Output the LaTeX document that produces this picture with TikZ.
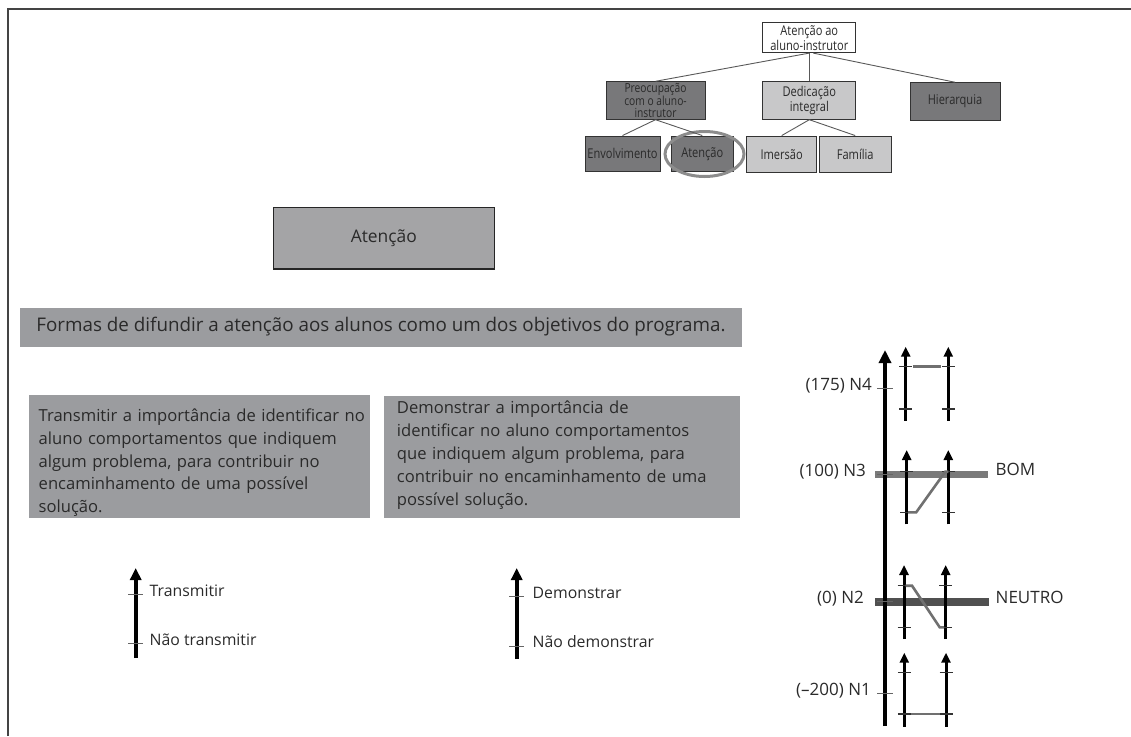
\documentclass[tikz,border=0pt]{standalone}
\usepackage{fontspec}
\setmainfont{Open Sans}
\newfontfamily\treefont[FakeStretch=0.82]{Open Sans}
\usetikzlibrary{arrows.meta,shapes.geometric}

\definecolor{ink}{HTML}{2A2A2A}
\definecolor{framegray}{HTML}{444444}
\definecolor{darkbox}{HTML}{78787A}
\definecolor{lightbox}{HTML}{C8C8C9}
\definecolor{midbox}{HTML}{A4A4A6}
\definecolor{panel}{HTML}{9B9C9F}
\definecolor{linkgray}{HTML}{707070}
\definecolor{ringgray}{HTML}{8C8C8C}
\definecolor{bomband}{HTML}{7A7A7A}
\definecolor{neutband}{HTML}{505050}

\tikzset{
  frameline/.style={draw=framegray, line width=1.6pt},
  treebox/.style={draw=black!80, line width=0.8pt, inner sep=0pt, align=center,
    text=ink, font=\treefont\fontsize{13.5}{15}\selectfont},
  darktree/.style={treebox, fill=darkbox},
  lighttree/.style={treebox, fill=lightbox},
  treelink/.style={draw=black!65, line width=0.9pt},
  ring/.style={draw=ringgray, line width=3pt, ellipse, inner sep=0pt},
  titlebox/.style={draw=black!85, line width=1.5pt, fill=midbox, inner sep=0pt,
    text=ink, font=\fontsize{17.4}{20}\selectfont},
  panelbox/.style={fill=panel, inner sep=0pt, text=ink},
  paneltext/.style={inner sep=0pt, align=left, text=ink, text width=345pt},
  legendarrow/.style={draw=black, line width=4pt, -{Triangle[length=12pt,width=11pt]}},
  legendtick/.style={draw=black!60, line width=0.8pt},
  legendlabel/.style={inner sep=0pt, text=ink, font=\fontsize{15.8}{18}\selectfont},
  mainaxis/.style={draw=black, line width=4.5pt, -{Triangle[length=13pt,width=12pt]}},
  smallaxis/.style={draw=black, line width=3pt, -{Triangle[length=10pt,width=9pt]}},
  axistick/.style={draw=black!60, line width=0.9pt},
  smalltick/.style={draw=black!80, line width=1.2pt},
  pathlink/.style={draw=linkgray, line width=2.6pt},
  scalelabel/.style={inner sep=0pt, text=ink, font=\fontsize{17}{19}\selectfont},
}

\begin{document}
\begin{tikzpicture}[x=1pt,y=-1pt]
\useasboundingbox (0,0) rectangle (1131,736);

% page frame (top and left edges)
\draw[frameline] (8,736) -- (8,9) -- (1131,9);

% ---- concept tree ----
\node[treebox, fill=white, minimum width=93, minimum height=30] (root) at (809.3,37.7) {Atenção ao\\aluno-instrutor};
\node[darktree, minimum width=99, minimum height=37.6,
      font=\treefont\fontsize{12.5}{11.6}\selectfont] (preo) at (655.5,100.5) {Preocupação\\com o aluno-\\instrutor};
\node[lighttree, minimum width=93, minimum height=37.6] (dedi) at (809.3,100.5) {Dedicação\\integral};
\node[darktree, minimum width=90, minimum height=37.3] (hier) at (955,101.3) {Hierarquia};
\node[darktree, minimum width=75, minimum height=35.7] (envo) at (622.5,153.8) {Envolvimento};
\node[darktree, minimum width=61.3, minimum height=35.7] (aten) at (702.3,153.8) {Atenção};
\node[lighttree, minimum width=70, minimum height=36.7] (imer) at (781.7,154.3) {Imersão};
\node[lighttree, minimum width=71.7, minimum height=36.7] (fami) at (855.2,154.3) {Família};
\node[ring, minimum width=79, minimum height=45] (focus) at (704.5,154) {};

\draw[treelink] (root.south) -- (preo.north);
\draw[treelink] (root.south) -- (dedi.north);
\draw[treelink] ([xshift=4pt]root.south) -- (hier.north);
\draw[treelink] (preo.south) -- (envo.north);
\draw[treelink] (preo.south) -- (aten.north);
\draw[treelink] (dedi.south) -- (imer.north);
\draw[treelink] (dedi.south) -- (fami.north);

% ---- category title ----
\node[titlebox, minimum width=221, minimum height=61.7] (title) at (383.8,238.2) {Atenção};

% ---- description panels ----
\node[panelbox, minimum width=722, minimum height=39,
      font=\fontsize{18.8}{22}\selectfont] (goal) at (381,327) {Formas de difundir a atenção aos alunos como um dos objetivos do programa.};

\node[panelbox, anchor=north west, minimum width=341, minimum height=123] (lpanel) at (29,395) {};
\node[paneltext, anchor=base west, font=\fontsize{16.6}{22.7}\selectfont] (ltext) at (38.5,421.7)
  {Transmitir a importância de identificar no\\aluno comportamentos que indiquem\\algum problema, para contribuir no\\encaminhamento de uma possível\\solução.};

\node[panelbox, anchor=north west, minimum width=356.7, minimum height=122] (rpanel) at (383.3,396) {};
\node[paneltext, anchor=base west, font=\fontsize{16.6}{23}\selectfont] (rtext) at (396.7,413)
  {Demonstrar a importância de\\identificar no aluno comportamentos\\que indiquem algum problema, para\\contribuir no encaminhamento de uma\\possível solução.};

% ---- legend scales ----
\coordinate (ta0) at (135.7,658);
\coordinate (ta1) at (135.7,568);
\coordinate (taHi) at (135.7,594);
\coordinate (taLo) at (135.7,643);
\draw[legendarrow] (ta0) -- (ta1);
\draw[legendtick] ([xshift=-7.5pt]taHi) -- ([xshift=7.5pt]taHi);
\draw[legendtick] ([xshift=-7.5pt]taLo) -- ([xshift=7.5pt]taLo);
\node[legendlabel, anchor=mid west] (taHiL) at (149.5,594) {Transmitir};
\node[legendlabel, anchor=mid west] (taLoL) at (149.5,643) {Não transmitir};

\coordinate (da0) at (516.7,659);
\coordinate (da1) at (516.7,568);
\coordinate (daHi) at (516.7,596);
\coordinate (daLo) at (516.7,646);
\draw[legendarrow] (da0) -- (da1);
\draw[legendtick] ([xshift=-7.5pt]daHi) -- ([xshift=7.5pt]daHi);
\draw[legendtick] ([xshift=-7.5pt]daLo) -- ([xshift=7.5pt]daLo);
\node[legendlabel, anchor=mid west] (daHiL) at (532.5,596) {Demonstrar};
\node[legendlabel, anchor=mid west] (daLoL) at (532.5,645) {Não demonstrar};

% ---- value scale ----
\coordinate (n3band0) at (875,474.7);
\coordinate (n3band1) at (988,474.7);
\coordinate (n2band0) at (875,601.7);
\coordinate (n2band1) at (989,601.7);
\draw[draw=bomband, line width=7pt] (n3band0) -- (n3band1);
\draw[draw=neutband, line width=8pt] (n2band0) -- (n2band1);

\coordinate (ax0) at (885,726);
\coordinate (ax1) at (885,350);
\draw[mainaxis] (ax0) -- (ax1);
\foreach \lv/\yy in {N4/388, N3/474.5, N2/601.5, N1/693.3} {
  \coordinate (ax\lv) at (885,\yy);
  \draw[axistick] ([xshift=-8pt]ax\lv) -- ([xshift=8pt]ax\lv);
}
\node[scalelabel, anchor=mid east] (labN4) at (872,388) {(175) N4};
\node[scalelabel, anchor=mid east] (labN3) at (866,474) {(100) N3};
\node[scalelabel, anchor=mid east] (labN2) at (864,601) {(0) N2};
\node[scalelabel, anchor=mid east] (labN1) at (871,693) {(–200) N1};
\node[scalelabel, anchor=mid west] (labBom) at (995.5,473) {BOM};
\node[scalelabel, anchor=mid west] (labNeu) at (995.5,600.5) {NEUTRO};

% paired profiles: left = Transmitir scale, right = Demonstrar scale
\foreach \g/\lx/\rx/\ty/\by/\ta/\tb in {
    p4/905.7/948.3/346.7/420.7/366.7/409,
    p3/906.7/948.3/450/524.3/471.7/512.3,
    p2/904/945.7/565/639/585.7/627.3,
    p1/904.3/946/652.7/726.7/672.7/714} {
  \coordinate (\g-l0) at (\lx,\by);
  \coordinate (\g-l1) at (\lx,\ty);
  \coordinate (\g-r0) at (\rx,\by);
  \coordinate (\g-r1) at (\rx,\ty);
  \coordinate (\g-lt) at (\lx,\ta);
  \coordinate (\g-lb) at (\lx,\tb);
  \coordinate (\g-rt) at (\rx,\ta);
  \coordinate (\g-rb) at (\rx,\tb);
  \draw[smallaxis] (\g-l0) -- (\g-l1);
  \draw[smallaxis] (\g-r0) -- (\g-r1);
  \draw[smalltick] ([xshift=-6.5pt]\g-lt) -- ([xshift=6.5pt]\g-lt);
  \draw[smalltick] ([xshift=-6.5pt]\g-lb) -- ([xshift=6.5pt]\g-lb);
  \draw[smalltick] ([xshift=-6.5pt]\g-rt) -- ([xshift=6.5pt]\g-rt);
  \draw[smalltick] ([xshift=-6.5pt]\g-rb) -- ([xshift=6.5pt]\g-rb);
}
\draw[pathlink] ([xshift=7pt]p4-lt) -- ([xshift=-7pt]p4-rt);
\draw[pathlink] ([xshift=1.5pt]p3-lb) -- ([xshift=9.5pt]p3-lb) -- ([xshift=-3pt]p3-rt) -- (p3-rt);
\draw[pathlink] ([xshift=1.5pt]p2-lt) -- ([xshift=8pt]p2-lt) -- ([xshift=-6pt]p2-rb) -- ([xshift=-1.5pt]p2-rb);
\draw[pathlink] ([xshift=7pt]p1-lb) -- ([xshift=-6pt]p1-rb);
\end{tikzpicture}
\end{document}
